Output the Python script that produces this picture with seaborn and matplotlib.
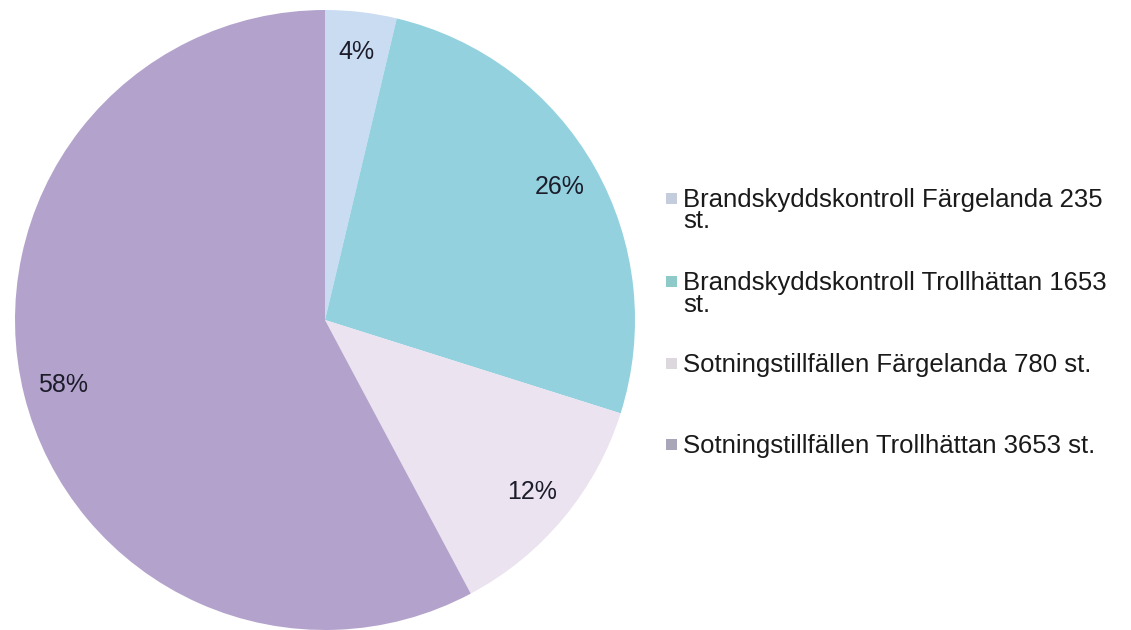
import matplotlib
matplotlib.use("Agg")
import matplotlib.pyplot as plt
from matplotlib.patches import Rectangle
import seaborn as sns

# Data
categories = [
    "Brandskyddskontroll Färgelanda 235\nst.",
    "Brandskyddskontroll Trollhättan 1653\nst.",
    "Sotningstillfällen Färgelanda 780 st.",
    "Sotningstillfällen Trollhättan 3653 st.",
]
values = [235, 1653, 780, 3653]
slice_colors = ["#cadcf2", "#93d1df", "#ebe3ef", "#b3a3cc"]
marker_colors = ["#c4cddc", "#8ecbc8", "#ddd8de", "#aaa6b9"]

sns.set_theme(style="white")
plt.rcParams["font.family"] = ["Liberation Sans", "DejaVu Sans"]

W, H = 1131, 630
fig = plt.figure(figsize=(W / 100, H / 100), dpi=100)
fig.patch.set_facecolor("white")

cx, cy, r = 325, 320, 310
ax = fig.add_axes([(cx - r) / W, (H - cy - r) / H, 2 * r / W, 2 * r / H])
wedges, texts, autotexts = ax.pie(
    values,
    colors=slice_colors,
    startangle=90,
    counterclock=False,
    autopct=lambda p: f"{p:.0f}%",
    pctdistance=0.87,
    wedgeprops=dict(linewidth=0),
    textprops=dict(fontsize=18, color="#1c1c2a"),
)
ax.set_xlim(-1, 1)
ax.set_ylim(-1, 1)
ax.set_aspect("equal")
ax.axis("off")

# Legend (manual layout to keep Excel-like spacing)
baselines = [207, 290, 372, 453]
line_gap = 21.5
for lab, col, yb in zip(categories, marker_colors, baselines):
    nl = lab.count("\n")
    fig.text(683 / W, 1 - (yb + nl * line_gap) / H, lab, fontsize=18.5,
             color="#1a1a1a", va="baseline", ha="left", linespacing=0.85)
    fig.add_artist(Rectangle((666 / W, 1 - (yb - 3) / H), 11 / W, 11 / H,
                             transform=fig.transFigure, facecolor=col,
                             edgecolor="none"))

fig.savefig("out.png", dpi=100, facecolor="white")
